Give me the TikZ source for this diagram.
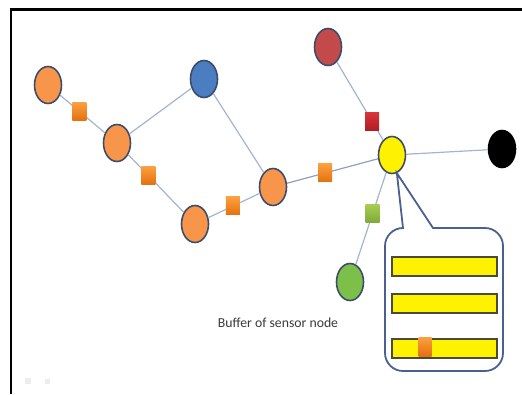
\documentclass[tikz,border=0pt]{standalone}
\usepackage{fontspec}
\setmainfont{Carlito}
\usetikzlibrary{shapes.geometric}

\definecolor{nodeline}{HTML}{3E4C6C}
\definecolor{linkblue}{HTML}{A3B4D0}
\definecolor{calloutblue}{HTML}{4A6190}
\definecolor{bargrey}{HTML}{4A4A3A}
\definecolor{textgrey}{HTML}{3A3A3A}
\definecolor{sorange}{HTML}{F7964A}
\definecolor{sblue}{HTML}{4A7EC0}
\definecolor{sred}{HTML}{C24A4A}
\definecolor{sgreen}{HTML}{7CC04A}
\definecolor{pkttop}{HTML}{FBA040}
\definecolor{pktbot}{HTML}{E5700F}
\definecolor{redtop}{HTML}{D8353A}
\definecolor{redbot}{HTML}{B01E24}
\definecolor{greentop}{HTML}{A6CC50}
\definecolor{greenbot}{HTML}{7FA83A}

\begin{document}
\begin{tikzpicture}[x=1bp,y=-1bp,
  sensor/.style={ellipse,draw=nodeline,line width=1.6bp,minimum width=27bp,minimum height=37bp,inner sep=0pt},
  pkt/.style={rectangle,minimum width=14bp,minimum height=18bp,inner sep=0pt,top color=pkttop,bottom color=pktbot},
  link/.style={draw=linkblue,line width=1.2bp},
  bufbar/.style={rectangle,draw=bargrey,line width=1.4bp,fill=yellow,minimum width=105bp,minimum height=19bp,inner sep=0pt}]

\useasboundingbox (0,0) rectangle (522,394);

%Frame
\draw[line width=2.5bp] (11,394) -- (11,9.5) -- (522,9.5);

%Sensor nodes
\node[sensor,fill=sorange] (o1) at (48,85) {};
\node[sensor,fill=sorange] (o2) at (117,143) {};
\node[sensor,fill=sorange] (o3) at (195,224) {};
\node[sensor,fill=sorange] (o4) at (273,187) {};
\node[sensor,fill=sblue] (blu) at (204,79) {};
\node[sensor,fill=sred] (red) at (328,47) {};
\node[sensor,fill=yellow] (yel) at (392,155) {};
\node[sensor,fill=black,draw=black] (blk) at (502,149) {};
\node[sensor,fill=sgreen] (grn) at (350,282) {};

%Links and packets
\draw[link] (o1) -- node[pkt,pos=0.43] (p1) {} (o2);
\draw[link] (o2) -- (blu);
\draw[link] (blu) -- (o4);
\draw[link] (o2) -- node[pkt,pos=0.36] (p2) {} (o3);
\draw[link] (o3) -- node[pkt,pos=0.48] (p3) {} (o4);
\draw[link,draw=linkblue!80!nodeline] (o4) -- node[pkt,pos=0.42] (p4) {} (yel);
\draw[link] (red) -- node[pkt,pos=0.76,top color=redtop,bottom color=redbot] (pr) {} (yel);
\draw[link] (yel) -- (blk);
\draw[link] (yel) -- node[pkt,pos=0.45,top color=greentop,bottom color=greenbot] (pg) {} (grn);

%Buffer callout
\coordinate (tip) at (yel.-75);
\draw[draw=calloutblue,line width=1.8bp,fill=white] (tip) -- (403,228)
  arc[start angle=270,end angle=180,radius=18] -- (385,353)
  arc[start angle=180,end angle=90,radius=18] -- (485,371)
  arc[start angle=90,end angle=0,radius=18] -- (503,246)
  arc[start angle=0,end angle=-90,radius=18] -- (433,228) -- cycle;

%Buffer slots
\node[bufbar] (bar1) at (444.5,266.5) {};
\node[bufbar] (bar2) at (444.5,303.5) {};
\node[bufbar] (bar3) at (444.5,348.5) {};
\node[pkt,minimum width=13bp,minimum height=19bp] (pb) at (425,346.5) {};

%Label
\node[text=textgrey,font=\fontsize{13.8}{16}\selectfont] (lbl) at (278,323) {Buffer of sensor node};

%Player icons
\node[fill=black!7,minimum size=6bp,inner sep=0pt] (ic1) at (28,381) {};
\node[fill=black!7,minimum size=5bp,inner sep=0pt] (ic2) at (47,381) {};
\end{tikzpicture}
\end{document}
